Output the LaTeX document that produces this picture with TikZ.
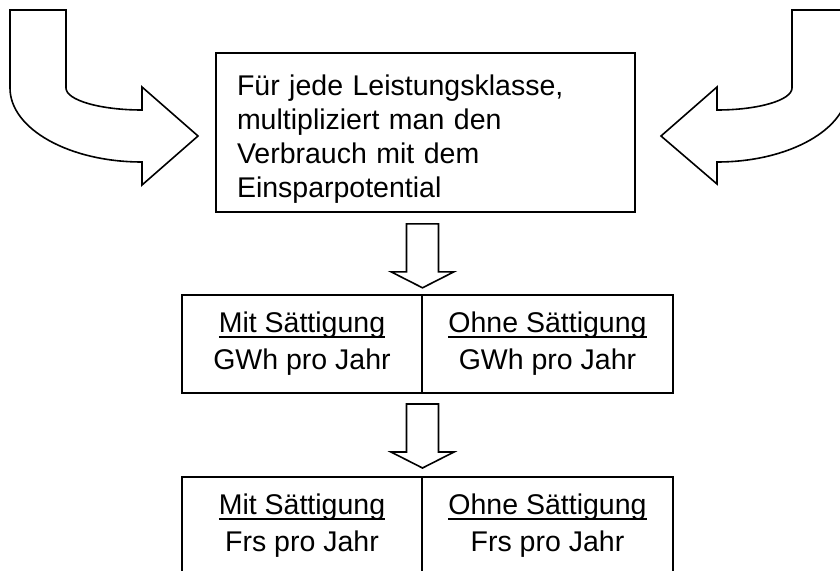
\documentclass[tikz,border=0pt]{standalone}
\usepackage{fontspec}
\setmainfont{Liberation Sans}
\usetikzlibrary{positioning, calc}

\newcommand\uln[1]{\setbox0=\hbox{#1}\rlap{\rule[-5.5pt]{\wd0}{2.2pt}}\box0}

\begin{document}
\begin{tikzpicture}[x=1pt, y=-1pt,
    outline/.style={draw, line width=1.6pt, line join=miter, fill=white},
    task/.style={rectangle, draw, line width=1.6pt, minimum width=419pt, minimum height=159pt, text width=377pt, inner xsep=21pt, align=left, font=\fontsize{28.5}{34.3}\selectfont},
    cell/.style={rectangle, draw, line width=1.6pt, outer sep=0pt, minimum height=98pt, align=center, font=\fontsize{28.5}{37}\selectfont},
    blockdown/.pic={\draw[outline] (-16,0) -- (-16,48) -- (-31.5,48) -- (0,64) -- (31.5,48) -- (16,48) -- (16,0) -- cycle;}]
    \useasboundingbox (0,0) rectangle (840,570);
    \clip (0,0) rectangle (840,570);
    % boxes
    \node [task] (task) at (425.5,132.5) {\rule{0pt}{34pt}Für jede Leistungsklasse,\\multipliziert man den\\Verbrauch mit dem\\Einsparpotential};
    \node [cell, minimum width=240pt] (gwhmit) at (302,344) {\uln{Mit Sättigung}\\GWh pro Jahr};
    \node [cell, minimum width=251pt, right=0pt of gwhmit] (gwhohne) {\uln{Ohne Sättigung}\\GWh pro Jahr};
    \node [cell, minimum width=240pt, below=84pt of gwhmit] (frsmit) {\uln{Mit Sättigung}\\Frs pro Jahr};
    \node [cell, minimum width=251pt, right=0pt of frsmit] (frsohne) {\uln{Ohne Sättigung}\\Frs pro Jahr};
    % bent arrows into the top box
    \draw [outline] (10,10) -- (66,10) -- (66,88) arc[start angle=180, end angle=90, x radius=76, y radius=22] -- (142,87) -- (198,136) -- (142,185) -- (142,162) arc[start angle=90, end angle=180, x radius=132, y radius=74] -- cycle;
    \draw [outline] (848,10) -- (792,10) -- (792,88) arc[start angle=0, end angle=90, x radius=75, y radius=22] -- (717,87) -- (661,136) -- (717,184) -- (717,162) arc[start angle=90, end angle=0, x radius=131, y radius=74] -- cycle;
    % down arrows
    \pic at ($(task.south -| gwhmit.east)+(0.5,11)$) {blockdown};
    \pic at ($(gwhmit.south east)+(0.5,11)$) {blockdown};
\end{tikzpicture}
\end{document}
